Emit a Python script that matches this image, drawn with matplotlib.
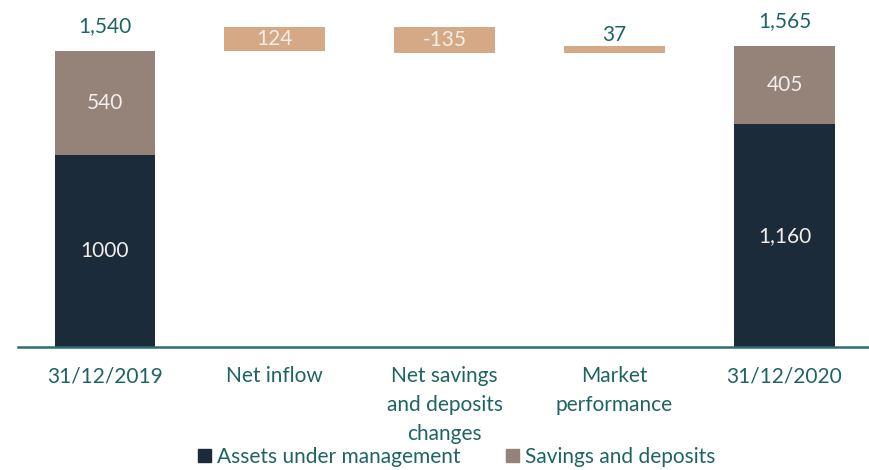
import matplotlib
matplotlib.use('Agg')
import matplotlib.pyplot as plt
from matplotlib.patches import Patch

plt.rcParams['font.family'] = ['Lato', 'DejaVu Sans']

## data
categories = ['31/12/2019', 'Net inflow', 'Net savings\nand deposits\nchanges',
              'Market\nperformance', '31/12/2020']
aum = [1000, 1160]          # assets under management, start and end
savings = [540, 405]        # savings and deposits, start and end
changes = [124, -135, 37]   # the three movements
change_labels = ['124', '-135', '37']
aum_labels = ['1000', '1,160']
savings_labels = ['540', '405']
total_labels = ['1,540', '1,565']

navy = '#1c2b3a'
greybrown = '#958279'
tan = '#d5a886'
teal = '#1f6464'
light = '#f2eeea'

fig = plt.figure(figsize=(8.7, 4.7), dpi=100)
ax = fig.add_axes([18/870, 123/470, 852/870, 347/470])

w = 0.59
ends = [0, 4]
for k, i in enumerate(ends):
    ax.bar(i, aum[k], width=w, color=navy)
    ax.bar(i, savings[k], bottom=aum[k], width=w, color=greybrown)
    ax.text(i, aum[k] / 2, aum_labels[k], ha='center', va='center',
            color=light, fontsize=15)
    ax.text(i, aum[k] + savings[k] / 2, savings_labels[k], ha='center',
            va='center', color=light, fontsize=15)
    ax.annotate(total_labels[k], (i, aum[k] + savings[k]), xytext=(0, 11),
                textcoords='offset points', ha='center', va='bottom',
                color=teal, fontsize=15)

## floating bars
running = aum[0] + savings[0]
for j, c in enumerate(changes):
    i = j + 1
    bottom = running if c > 0 else running + c
    ax.bar(i, abs(c), bottom=bottom, width=w, color=tan)
    if abs(c) > 80:
        ax.text(i, bottom + abs(c) / 2, change_labels[j], ha='center',
                va='center', color=light, fontsize=15)
    else:
        ax.annotate(change_labels[j], (i, bottom + abs(c)), xytext=(0, 1),
                    textcoords='offset points', ha='center', va='bottom',
                    color=teal, fontsize=15)
    running += c

ax.set_xlim(-0.51, 4.503)
ax.set_ylim(0, 1807)
ax.set_xticks(range(len(categories)))
ax.set_xticklabels(categories, color=teal, fontsize=15, linespacing=1.55)
ax.tick_params(axis='x', length=0, pad=14)
ax.set_yticks([])
for s in ['top', 'right', 'left']:
    ax.spines[s].set_visible(False)
ax.spines['bottom'].set_color('#2b6e6e')
ax.spines['bottom'].set_linewidth(1.8)

handles = [Patch(color=navy, label='Assets under management'),
           Patch(color=greybrown, label='Savings and deposits')]
fig.legend(handles=handles, loc='lower center', bbox_to_anchor=(0.525, -0.033),
           ncol=2, frameon=False, fontsize=15, handlelength=0.6,
           handleheight=0.6, handletextpad=0.3, columnspacing=2.2,
           labelcolor=teal)

fig.savefig('out.png', dpi=100)
